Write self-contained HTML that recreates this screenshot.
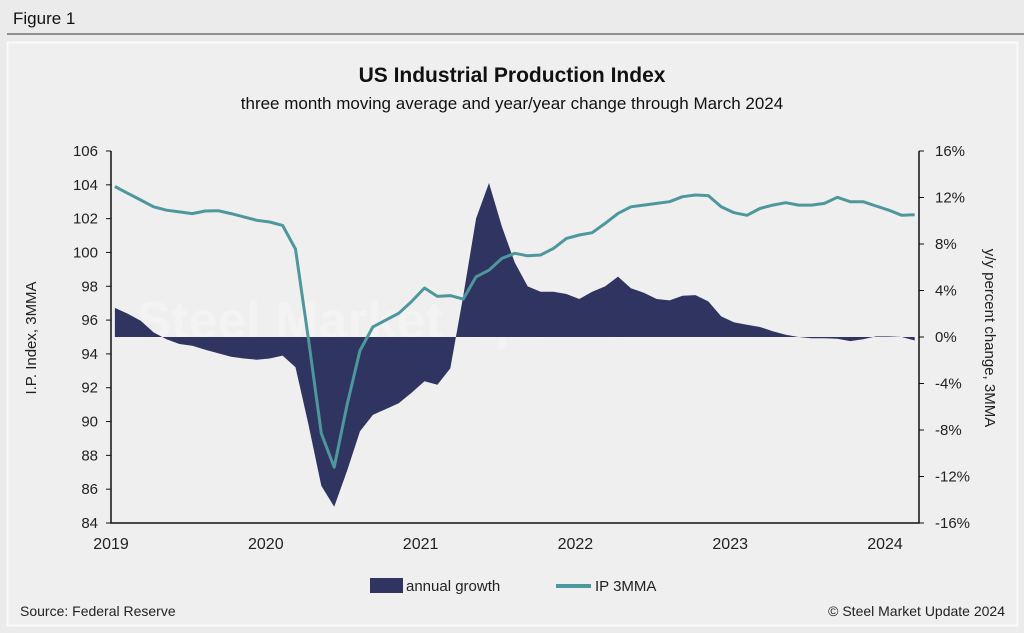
<!DOCTYPE html>
<html><head><meta charset="utf-8"><style>
body{margin:0;background:#e9e9e9;font-family:"Liberation Sans",sans-serif;}
svg{display:block}
</style></head><body>
<svg width="1024" height="633" xmlns="http://www.w3.org/2000/svg" font-family="Liberation Sans, sans-serif">
<rect x="0" y="0" width="1024" height="633" fill="#ebebeb"/>
<text x="13" y="24" font-size="17" fill="#111">Figure 1</text>
<line x1="7" y1="34" x2="1024" y2="34" stroke="#333" stroke-width="1"/>
<rect x="7.5" y="42.5" width="1010" height="583" fill="#efefef" stroke="#fafafa" stroke-width="2"/>
<text x="512" y="82" font-size="21" font-weight="bold" text-anchor="middle" fill="#111">US Industrial Production Index</text>
<text x="512" y="109" font-size="17" text-anchor="middle" fill="#111">three month moving average and year/year change through March 2024</text>
<g id="plot"></g>
<text transform="translate(36,338) rotate(-90)" font-size="15" text-anchor="middle" fill="#222">I.P. Index, 3MMA</text>
<text transform="translate(985,338) rotate(90)" font-size="15" text-anchor="middle" fill="#222">y/y percent change, 3MMA</text>
<rect x="370" y="578" width="33" height="15" fill="#2f3560"/>
<text x="406" y="591" font-size="15" fill="#222">annual growth</text>
<line x1="556" y1="586" x2="591" y2="586" stroke="#4e979c" stroke-width="4"/>
<text x="595" y="591" font-size="15" fill="#222">IP 3MMA</text>
<text x="20" y="616" font-size="14" fill="#222">Source: Federal Reserve</text>
<text x="1005" y="616" font-size="14" text-anchor="end" fill="#222">© Steel Market Update 2024</text>
</svg>
<script>
const ipValues=[103.9,103.5,103.1,102.7,102.5,102.4,102.3,102.45,102.47,102.3,102.1,101.9,101.8,101.6,100.2,94.9,89.3,87.3,91.0,94.2,95.6,96.0,96.4,97.1,97.9,97.4,97.45,97.24,98.56,98.95,99.65,99.95,99.8,99.85,100.24,100.83,101.03,101.17,101.72,102.31,102.7,102.8,102.9,103.0,103.3,103.4,103.36,102.7,102.35,102.2,102.6,102.8,102.94,102.8,102.8,102.9,103.26,103.0,103.0,102.75,102.5,102.2,102.23];
const growthValues=[2.5,2.0,1.4,0.4,-0.2,-0.6,-0.75,-1.1,-1.4,-1.7,-1.85,-1.95,-1.85,-1.6,-2.6,-7.5,-12.8,-14.6,-11.5,-8.1,-6.7,-6.2,-5.7,-4.8,-3.8,-4.1,-2.7,3.5,10.2,13.25,9.5,6.4,4.35,3.9,3.9,3.7,3.27,3.9,4.35,5.2,4.2,3.8,3.27,3.15,3.55,3.6,3.06,1.77,1.26,1.05,0.86,0.5,0.2,0,-0.1,-0.1,-0.15,-0.35,-0.2,0.05,0.05,0,-0.3];
const leftTicks=[84,86,88,90,92,94,96,98,100,102,104,106];
const rightTicks=[-16,-12,-8,-4,0,4,8,12,16];
const yearLabels=["2019","2020","2021","2022","2023","2024"];

const NS="http://www.w3.org/2000/svg";
const X0=111,X1=919,Y0=151,Y1=523;
const monthW=12.9;
const xS=i=>X0+monthW*(i+0.3);
const yL=v=>Y1-(v-84)/(106-84)*(Y1-Y0);
const yR=v=>Y1-(v+16)/32*(Y1-Y0);
const g=document.getElementById('plot');
function mk(t,a){const e=document.createElementNS(NS,t);for(const k in a)e.setAttribute(k,a[k]);g.appendChild(e);return e;}

// watermark
const wm=mk('text',{x:385,y:338,'font-size':52,'font-weight':'bold',fill:'#ffffff','fill-opacity':0.25,'text-anchor':'middle'});


wm.textContent='Steel Market Update';

// area
let d='M'+xS(0)+','+yR(0);
growthValues.forEach((v,i)=>{d+=' L'+xS(i).toFixed(1)+','+yR(v).toFixed(1);});
d+=' L'+xS(growthValues.length-1)+','+yR(0)+' Z';
const area=mk('path',{d:d,fill:'#2f3560'});



// line
const pts=ipValues.map((v,i)=>xS(i).toFixed(1)+','+yL(v).toFixed(1)).join(' ');
const line=mk('polyline',{points:pts,fill:'none',stroke:'#4e979c','stroke-width':3,'stroke-linejoin':'round'});



// axes
const ax=mk('path',{d:`M${X0},${Y0} V${Y1} H${X1} V${Y0}`,fill:'none',stroke:'#111','stroke-width':1.5});



leftTicks.forEach(v=>{
  const y=yL(v);
  const t=mk('line',{x1:X0-5,x2:X0,y1:y,y2:y,stroke:'#111'});
  
  
  const l=mk('text',{x:X0-13,y:y+5,'font-size':15,'text-anchor':'end',fill:'#222'});
  
  
  l.textContent=v;
});
rightTicks.forEach(v=>{
  const y=yR(v);
  const t=mk('line',{x1:X1,x2:X1+5,y1:y,y2:y,stroke:'#111'});
  
  
  const l=mk('text',{x:X1+16,y:y+5,'font-size':15,fill:'#222'});
  
  
  l.textContent=v+'%';
});
yearLabels.forEach((s,k)=>{
  const x=X0+k*12*monthW;
  const l=mk('text',{x:x,y:549,'font-size':16,'text-anchor':'middle',fill:'#222'});
  
  
  l.textContent=s;
});
</script>
</body></html>
